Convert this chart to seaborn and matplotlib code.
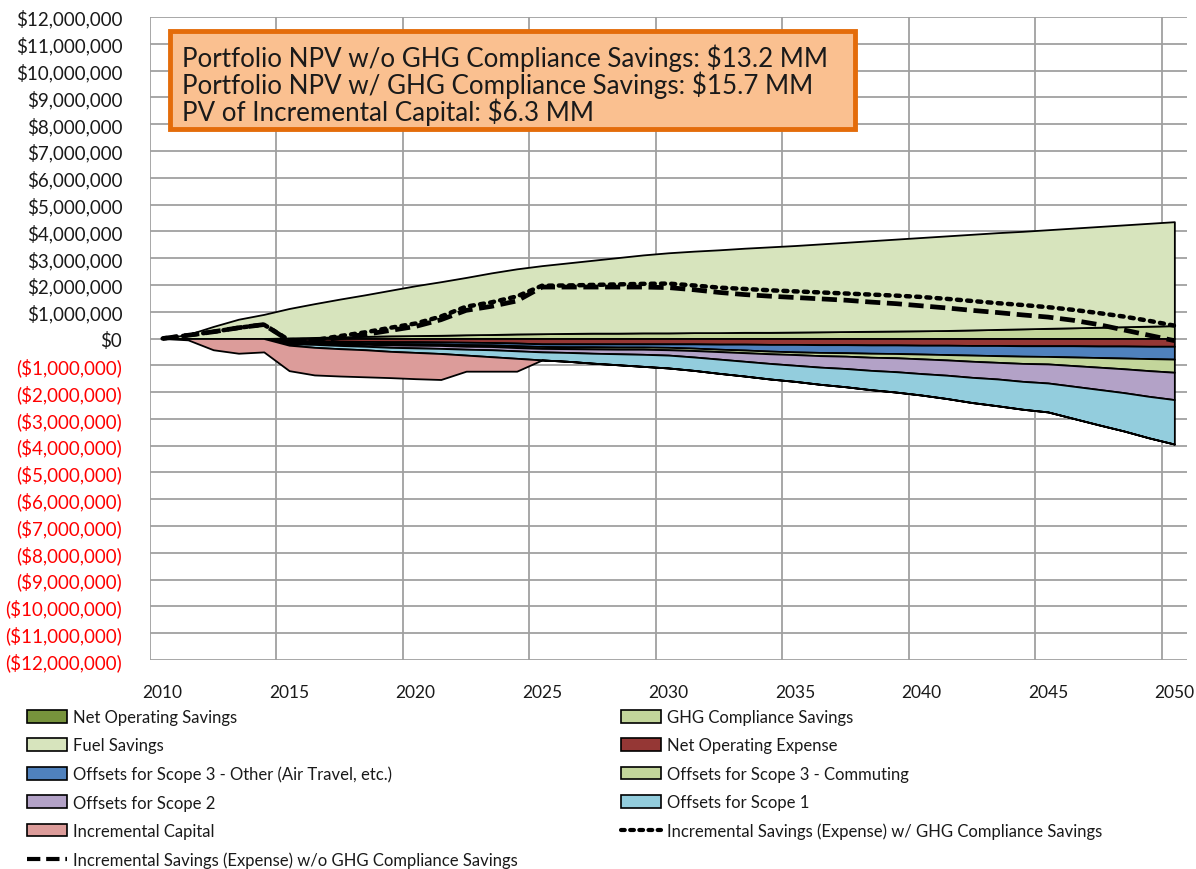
import numpy as np
import pandas as pd
import seaborn as sns
import matplotlib.pyplot as plt
from matplotlib.patches import Patch, Rectangle
from matplotlib.lines import Line2D

# values in $ millions, one per year 2010..2050
years = list(range(2010, 2051))

net_operating_savings = [0, 0, 0, 0, 0,
                         0, 0, 0, 0, 0,
                         0, 0, 0, 0, 0,
                         0, 0, 0, 0, 0,
                         0, 0, 0, 0, 0,
                         0, 0, 0, 0, 0,
                         0, 0, 0, 0, 0,
                         0, 0, 0, 0, 0,
                         0]
ghg_compliance = [0, 0, 0, 0, 0,
                  0.02, 0.04, 0.06, 0.08, 0.10,
                  0.11, 0.12, 0.14, 0.15, 0.17,
                  0.18, 0.19, 0.20, 0.20, 0.21,
                  0.21, 0.22, 0.22, 0.23, 0.23,
                  0.24, 0.25, 0.26, 0.27, 0.28,
                  0.29, 0.30, 0.32, 0.34, 0.36,
                  0.38, 0.40, 0.42, 0.44, 0.46,
                  0.48]
fuel_savings = [0, 0.15, 0.45, 0.72, 0.90,
                1.10, 1.26, 1.41, 1.55, 1.70,
                1.86, 2.00, 2.14, 2.30, 2.43,
                2.54, 2.63, 2.72, 2.82, 2.91,
                2.99, 3.04, 3.09, 3.14, 3.19,
                3.23, 3.28, 3.33, 3.38, 3.43,
                3.48, 3.53, 3.57, 3.61, 3.64,
                3.68, 3.72, 3.76, 3.80, 3.84,
                3.88]
net_operating_expense = [0, 0, 0, 0, 0,
                         -0.08, -0.09, -0.10, -0.11, -0.12,
                         -0.12, -0.13, -0.14, -0.15, -0.17,
                         -0.20, -0.20, -0.20, -0.20, -0.20,
                         -0.20, -0.20, -0.21, -0.21, -0.22,
                         -0.22, -0.23, -0.23, -0.24, -0.24,
                         -0.25, -0.25, -0.26, -0.26, -0.27,
                         -0.27, -0.27, -0.28, -0.28, -0.29,
                         -0.29]
scope3_other = [0, 0, 0, 0, 0,
                -0.05, -0.05, -0.06, -0.07, -0.07,
                -0.08, -0.08, -0.09, -0.09, -0.10,
                -0.10, -0.11, -0.11, -0.12, -0.12,
                -0.13, -0.16, -0.19, -0.22, -0.25,
                -0.28, -0.29, -0.30, -0.31, -0.32,
                -0.33, -0.35, -0.36, -0.38, -0.39,
                -0.40, -0.42, -0.43, -0.45, -0.46,
                -0.48]
scope3_commuting = [0, 0, 0, 0, 0,
                    -0.03, -0.03, -0.04, -0.04, -0.05,
                    -0.05, -0.05, -0.06, -0.06, -0.07,
                    -0.07, -0.07, -0.08, -0.08, -0.08,
                    -0.09, -0.09, -0.09, -0.10, -0.10,
                    -0.10, -0.12, -0.13, -0.15, -0.16,
                    -0.18, -0.20, -0.23, -0.25, -0.27,
                    -0.28, -0.32, -0.36, -0.40, -0.45,
                    -0.49]
scope2 = [0, 0, 0, 0, 0,
          -0.04, -0.05, -0.06, -0.07, -0.09,
          -0.10, -0.11, -0.11, -0.12, -0.12,
          -0.13, -0.14, -0.16, -0.17, -0.19,
          -0.20, -0.24, -0.28, -0.32, -0.36,
          -0.40, -0.43, -0.46, -0.49, -0.52,
          -0.55, -0.57, -0.60, -0.62, -0.67,
          -0.71, -0.77, -0.83, -0.89, -0.96,
          -1.02]
scope1 = [0, 0, 0, 0, 0,
          -0.05, -0.11, -0.12, -0.13, -0.15,
          -0.17, -0.19, -0.22, -0.26, -0.28,
          -0.30, -0.33, -0.37, -0.41, -0.45,
          -0.48, -0.50, -0.53, -0.55, -0.58,
          -0.60, -0.64, -0.68, -0.72, -0.76,
          -0.80, -0.87, -0.94, -1.00, -1.04,
          -1.08, -1.20, -1.32, -1.43, -1.55,
          -1.66]
incremental_capital = [0, -0.05, -0.42, -0.55, -0.50,
                       -0.95, -1.03, -1.02, -1.01, -0.98,
                       -0.98, -0.97, -0.60, -0.54, -0.48,
                       0, 0, 0, 0, 0,
                       0, 0, 0, 0, 0,
                       0, 0, 0, 0, 0,
                       0, 0, 0, 0, 0,
                       0, 0, 0, 0, 0,
                       0]
savings_wo_ghg = [0, 0.12, 0.25, 0.40, 0.52,
                  -0.08, -0.10, 0.03, 0.15, 0.30,
                  0.45, 0.70, 1.05, 1.20, 1.40,
                  1.92, 1.92, 1.92, 1.92, 1.92,
                  1.90, 1.82, 1.72, 1.64, 1.58,
                  1.53, 1.48, 1.43, 1.36, 1.30,
                  1.22, 1.14, 1.05, 0.97, 0.88,
                  0.80, 0.68, 0.52, 0.32, 0.12,
                  -0.08]
savings_w_ghg = [0, 0.12, 0.25, 0.40, 0.52,
                 -0.06, -0.06, 0.09, 0.23, 0.40,
                 0.56, 0.82, 1.19, 1.35, 1.57,
                 1.97, 1.98, 2.00, 2.02, 2.04,
                 2.05, 1.98, 1.90, 1.85, 1.80,
                 1.76, 1.72, 1.68, 1.64, 1.60,
                 1.55, 1.48, 1.40, 1.32, 1.25,
                 1.17, 1.07, 0.95, 0.82, 0.66,
                 0.48]

pos_names = ['Net Operating Savings', 'GHG Compliance Savings', 'Fuel Savings']
pos_colors = ['#77933c', '#c3d69b', '#d7e4bd']
neg_names = ['Net Operating Expense', 'Offsets for Scope 3 - Other (Air Travel, etc.)',
             'Offsets for Scope 3 - Commuting', 'Offsets for Scope 2',
             'Offsets for Scope 1', 'Incremental Capital']
neg_colors = ['#953735', '#4f81bd', '#c3d69b', '#b3a2c7', '#93cddd', '#dc9c9a']
line_w_name = 'Incremental Savings (Expense) w/ GHG Compliance Savings'
line_wo_name = 'Incremental Savings (Expense) w/o GHG Compliance Savings'

box_lines = ['Portfolio NPV w/o GHG Compliance Savings: $13.2 MM',
             'Portfolio NPV w/ GHG Compliance Savings: $15.7 MM',
             'PV of Incremental Capital: $6.3 MM']

sns.set_style('white')
plt.rcParams['font.family'] = ['Lato', 'DejaVu Sans']

fig = plt.figure(figsize=(11.96, 8.70), dpi=100)
ax = fig.add_axes([150 / 1196, 1 - 661 / 870, 1037 / 1196, 643 / 870])

ax.stackplot(years, net_operating_savings, ghg_compliance, fuel_savings,
             colors=pos_colors, edgecolor='black', linewidth=1.3, zorder=2)
ax.stackplot(years, net_operating_expense, scope3_other, scope3_commuting,
             scope2, scope1, incremental_capital,
             colors=neg_colors, edgecolor='black', linewidth=1.3, zorder=2)

lines = pd.DataFrame({'year': years, 'w': savings_w_ghg, 'wo': savings_wo_ghg})
sns.lineplot(data=lines, x='year', y='w', ax=ax, color='black', lw=3.2,
             linestyle=(0, (0.9, 1.4)), dash_capstyle='round', legend=False, zorder=4)
sns.lineplot(data=lines, x='year', y='wo', ax=ax, color='black', lw=3.4,
             linestyle=(0, (3.2, 1.4)), legend=False, zorder=5)

ax.set_xlim(2009.5, 2050.5)
ax.set_ylim(-12, 12)
ax.set_xticks(list(range(2010, 2051, 5)))
ax.set_xticks(np.arange(2009.5, 2050, 5), minor=True)
yt = list(range(-12, 13))
ylabels = [f'${v * 1000000:,.0f}' if v >= 0 else f'(${-v * 1000000:,.0f})' for v in yt]
ax.set_yticks(yt, labels=ylabels)
for lbl, v in zip(ax.get_yticklabels(), yt):
    lbl.set_color('#ff0000' if v < 0 else '#1a1a1a')
ax.tick_params(axis='y', length=5, width=1.1, color='#a0a0a0', pad=15, labelsize=13.5)
ax.tick_params(axis='x', which='both', length=0, pad=17, labelsize=12.5, labelcolor='#1a1a1a')
ax.set_xlabel('')
ax.set_ylabel('')
ax.grid(axis='y', which='major', color='#a0a0a0', lw=1.3, zorder=0)
ax.grid(axis='x', which='minor', color='#a0a0a0', lw=1.3, zorder=0)
ax.grid(axis='x', which='major', visible=False)
ax.set_axisbelow(True)
for s in ax.spines.values():
    s.set_visible(False)

# text box
fig.patches.append(Rectangle((170 / 1196, 1 - 130 / 870), 685 / 1196, 98 / 870,
                             transform=fig.transFigure, facecolor='#fac090',
                             edgecolor='#e46c0a', lw=3.5, zorder=10))
fig.text(182 / 1196, 1 - 44 / 870, '\n'.join(box_lines), fontsize=18.7,
         linespacing=0.98, color='#1a1a1a', va='top', ha='left', zorder=11)

# legend
pos_h = [Patch(facecolor=c, edgecolor='black', lw=1.2) for c in pos_colors]
neg_h = [Patch(facecolor=c, edgecolor='black', lw=1.2) for c in neg_colors]
h_w = Line2D([], [], color='black', lw=3, linestyle=(0, (0.9, 1.3)), dash_capstyle='round')
h_wo = Line2D([], [], color='black', lw=3, linestyle=(0, (3.2, 1.4)))

left_h = [pos_h[0], pos_h[2], neg_h[1], neg_h[3], neg_h[5], h_wo]
left_l = [pos_names[0], pos_names[2], neg_names[1], neg_names[3], neg_names[5], line_wo_name]
right_h = [pos_h[1], neg_h[0], neg_h[2], neg_h[4], h_w]
right_l = [pos_names[1], neg_names[0], neg_names[2], neg_names[4], line_w_name]

kw = dict(loc='upper left', frameon=False, fontsize=12, handlelength=2.4,
          handleheight=0.8, handletextpad=0.35, labelspacing=0.74,
          borderpad=0, borderaxespad=0, labelcolor='#1a1a1a')
fig.legend(left_h, left_l, bbox_to_anchor=(27 / 1196, 1 - 710 / 870), **kw)
fig.legend(right_h, right_l, bbox_to_anchor=(621 / 1196, 1 - 710 / 870), **kw)

fig.savefig('out.png', dpi=100)
